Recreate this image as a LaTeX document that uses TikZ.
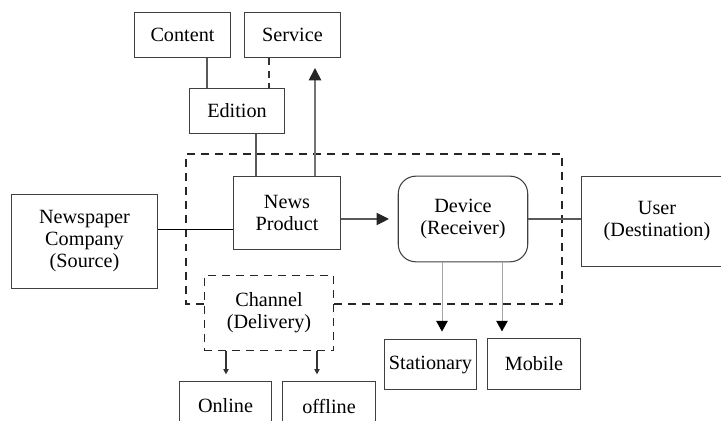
\documentclass[tikz,border=0pt]{standalone}
\usepackage{fontspec}
\setmainfont{Liberation Serif}
\usetikzlibrary{arrows.meta}
\usetikzlibrary{positioning}

% one pixel of the reference
\newcommand{\pxu}{0.5669pt}

\begin{document}
\begin{tikzpicture}[x=0.02cm, y=-0.02cm,
    txt/.style={font=\fontsize{11.5}{12.5}\selectfont, align=center, inner sep=0pt},
    blk/.style={txt, draw=black!75, line width=0.6pt},
    lnk/.style={draw=black!65, line width=0.6pt},
    dlink/.style={draw=black!80, line width=0.6pt, dash pattern=on 4pt off 3pt},
    frame/.style={draw=black!85, line width=0.6pt, dash pattern=on 4.5pt off 3.5pt},
    bigtip/.style={-{Triangle[length=7pt, width=7pt, color=black!85]}},
    midtip/.style={-{Triangle[length=6pt, width=6.5pt, color=black]}},
    smalltip/.style={-{Triangle[length=3pt, width=3pt]}}]
            \clip (0,0) rectangle (721,421);

            % Top boxes
            \node[blk, minimum width=97*\pxu, minimum height=46*\pxu] (content) at (182.5,35) {Content};
            \node[blk, minimum width=97*\pxu, minimum height=46*\pxu] (service) at (292.5,35) {Service};
            \node[blk, minimum width=96*\pxu, minimum height=46*\pxu] (edition) at (237,111) {Edition};

            % Main chain
            \node[blk, minimum width=108*\pxu, minimum height=74*\pxu] (product) at (287,213) {News\\Product};
            \node[blk, minimum width=130*\pxu, minimum height=86*\pxu, rounded corners=10pt] (device) at (463,219) {Device\\(Receiver)};
            \node[blk, minimum width=147*\pxu, minimum height=95*\pxu] (company) at (84.5,241.5) {Newspaper\\Company\\(Source)};
            \node[blk, minimum width=152*\pxu, minimum height=91*\pxu] (user) at (657,221.5) {User\\(Destination)};

            % Channel
            \node[txt, frame, minimum width=130*\pxu, minimum height=76*\pxu] (channel) at (269,313) {Channel\\(Delivery)};
            \node[blk, minimum width=93*\pxu, minimum height=50*\pxu] (online) at (225.5,406) {Online};
            \node[blk, minimum width=94*\pxu, minimum height=50*\pxu] (offline) at (329,406) {offline};

            % Enclosing dashed frame (broken by the channel box)
            \draw[frame] (channel.west |- 0,304) -- (186,304) -- (186,154) -- (562,154) -- (562,304) -- (channel.east |- 0,304);

            % Device types
            \node[blk, minimum width=93*\pxu, minimum height=51*\pxu] (stationary) at (430.5,364.5) {Stationary};
            \node[blk, minimum width=94*\pxu, minimum height=52*\pxu] (mobile) at (534,364) {Mobile};

            % Connectors on top
            \draw[lnk] (content.south -| 207,0) -- (edition.north -| 207,0);
            \draw[dlink] (service.south -| 269,0) -- (edition.north -| 269,0);
            \draw[lnk] (edition.south -| 256,0) -- (product.north -| 256,0);
            \coordinate (uptip) at (315,68);
            \draw[lnk, draw=black!55, line width=1pt, bigtip] (product.north -| uptip) -- (uptip);

            % Horizontal links
            \draw[draw=black, line width=0.45pt] (company.east |- 0,229) -- (product.west |- 0,229);
            \draw[lnk, bigtip, shorten >=5pt] (product.east |- 0,219) -- (device.west |- 0,219);
            \draw[lnk] (device.east |- 0,219) -- (user.west |- 0,219);

            % Device outputs
            \draw[draw=black!35, line width=0.5pt, midtip, shorten >=4pt] (device.south -| 442,0) -- (stationary.north -| 442,0);
            \draw[draw=black!35, line width=0.5pt, midtip, shorten >=3.5pt] (device.south -| 502,0) -- (mobile.north -| 502,0);

            % Channel outputs
            \draw[lnk, draw=black!80, smalltip, shorten >=3.5pt] (channel.south -| 226,0) -- (online.north -| 226,0);
            \draw[lnk, draw=black!80, smalltip, shorten >=3.5pt] (channel.south -| 317,0) -- (offline.north -| 317,0);
\end{tikzpicture}
\end{document}
